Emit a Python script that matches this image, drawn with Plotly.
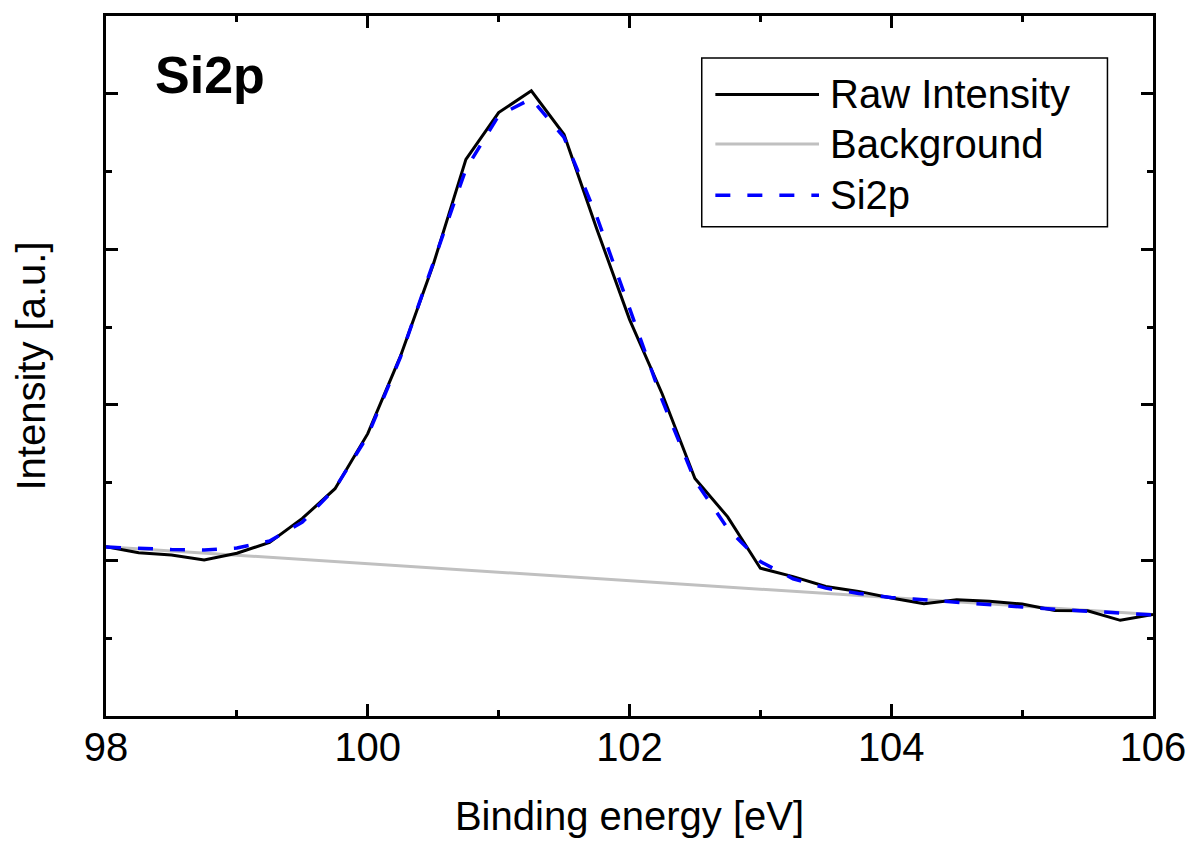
import plotly.graph_objects as go

# binding energy grid of the spectrum [eV]
energy = [98.00, 98.25, 98.50, 98.75, 99.00, 99.25, 99.50, 99.75,
          100.00, 100.25, 100.50, 100.75, 101.00, 101.25, 101.50, 101.75,
          102.00, 102.25, 102.50, 102.75, 103.00, 103.25, 103.50, 103.75,
          104.00, 104.25, 104.50, 104.75, 105.00, 105.25, 105.50, 105.75,
          106.00]

raw_intensity = [1.088, 1.050, 1.035, 1.003, 1.046, 1.116, 1.270, 1.461,
                 1.815, 2.313, 2.901, 3.578, 3.879, 4.019, 3.738, 3.131,
                 2.550, 2.070, 1.527, 1.280, 0.950, 0.896, 0.833, 0.801,
                 0.758, 0.722, 0.748, 0.737, 0.720, 0.679, 0.677, 0.615,
                 0.652]

si2p_fit = [1.086, 1.077, 1.070, 1.067, 1.080, 1.125, 1.246, 1.463,
            1.802, 2.307, 2.907, 3.516, 3.860, 3.968, 3.719, 3.210,
            2.622, 2.030, 1.514, 1.206, 0.993, 0.882, 0.822, 0.788,
            0.762, 0.748, 0.733, 0.718, 0.701, 0.686, 0.673, 0.658,
            0.650]

bg_energy = [98.0, 106.0]
background = [1.088, 0.652]

x_ticks = [98, 100, 102, 104, 106]

FONT = "Liberation Sans, Arial, sans-serif"
BLUE_DASH = "15px,17px"

fig = go.Figure()
fig.add_trace(go.Scatter(x=bg_energy, y=background, mode="lines", name="Background",
                         line=dict(color="#c0c0c0", width=3), showlegend=False))
fig.add_trace(go.Scatter(x=energy, y=raw_intensity, mode="lines", name="Raw Intensity",
                         line=dict(color="black", width=3), showlegend=False))
fig.add_trace(go.Scatter(x=energy, y=si2p_fit, mode="lines", name="Si2p",
                         line=dict(color="#0000ff", width=3.5, dash=BLUE_DASH),
                         showlegend=False))

axis_common = dict(showline=True, linewidth=3, linecolor="black", mirror="allticks",
                   ticks="inside", ticklen=12, tickwidth=3, tickcolor="black",
                   showgrid=False, zeroline=False)

fig.update_xaxes(range=[98, 106], tickvals=x_ticks, ticklabelstandoff=-6,
                 minor=dict(dtick=1, ticks="inside", ticklen=6, tickwidth=3,
                            tickcolor="black", showgrid=False),
                 tickfont=dict(family=FONT, size=40, color="black"),
                 title=dict(text="Binding energy [eV]", standoff=36,
                            font=dict(family=FONT, size=40, color="black")),
                 **axis_common)
fig.update_yaxes(range=[0, 4.5], dtick=1, showticklabels=False,
                 minor=dict(dtick=0.5, ticks="inside", ticklen=6, tickwidth=3,
                            tickcolor="black", showgrid=False),
                 title=dict(text="Intensity [a.u.]", standoff=46,
                            font=dict(family=FONT, size=40, color="black")),
                 **axis_common)

# hand-drawn legend, the sample lines are longer than plotly's own legend allows
legend_rows = [("Raw Intensity", dict(color="black", width=3)),
               ("Background", dict(color="#c0c0c0", width=3)),
               ("Si2p", dict(color="#0000ff", width=3.5, dash=BLUE_DASH))]
row_y = [0.888, 0.817, 0.744]

shapes = [dict(type="rect", xref="paper", yref="paper", x0=0.5690, x1=0.9565,
               y0=0.699, y1=0.940, line=dict(color="black", width=1.5))]
annotations = []
for (label, style), yy in zip(legend_rows, row_y):
    shapes.append(dict(type="line", xref="paper", yref="paper",
                       x0=0.582, x1=0.681, y0=yy, y1=yy, line=style))
    annotations.append(dict(text=label, xref="paper", yref="paper", x=0.690, y=yy,
                            xanchor="left", yanchor="middle", showarrow=False,
                            font=dict(family=FONT, size=40, color="black")))

annotations.append(dict(text="<b>Si2p</b>", xref="paper", yref="paper", x=0.099, y=0.915,
                        xanchor="center", yanchor="middle", showarrow=False,
                        font=dict(family=FONT, size=52, color="black")))

# the page body adds an 8px offset, so the figure is a bit smaller than the window
fig.update_layout(width=1183, height=830, margin=dict(l=98, r=35, t=5, b=121),
                  plot_bgcolor="white", paper_bgcolor="white",
                  shapes=shapes, annotations=annotations, showlegend=False)

fig.write_html("out.html")
